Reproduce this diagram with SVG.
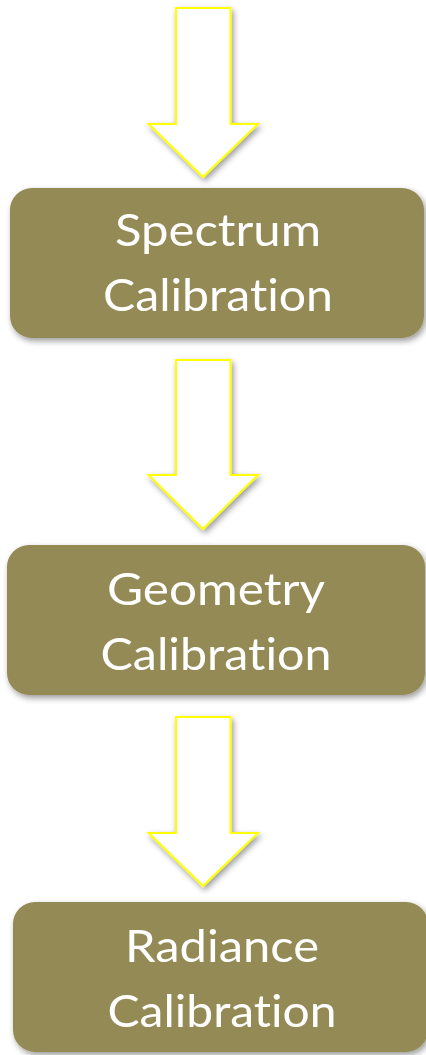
<svg xmlns="http://www.w3.org/2000/svg" width="426" height="1055" viewBox="0 0 426 1055">
<style>
.box{fill:#948a54}
.arrow{fill:#ffffff;stroke:#ffff00;stroke-width:2}
.lbl{font-family:Lato,"Open Sans",sans-serif;font-size:45px;fill:#ffffff;text-anchor:middle;font-variant-ligatures:none}
</style>
<defs>
<filter id="sh" x="-20%" y="-20%" width="140%" height="140%">
<feGaussianBlur in="SourceAlpha" stdDeviation="3"/>
<feOffset dx="2" dy="3" result="b"/>
<feComponentTransfer><feFuncA type="linear" slope="0.4"/></feComponentTransfer>
<feMerge><feMergeNode/><feMergeNode in="SourceGraphic"/></feMerge>
</filter>
</defs>
<rect width="426" height="1055" fill="#ffffff"/>
<g id="connectors" filter="url(#sh)">
<path class="arrow" d="M176,8 H230.5 V124 H258 L203,177 L148.5,124 H176 Z"/>
<path class="arrow" d="M176,360 H230.5 V475 H258 L203,529 L148.5,475 H176 Z"/>
<path class="arrow" d="M176,717 H230.5 V833 H258 L203,886 L148.5,833 H176 Z"/>
</g>
<g id="spectrum" filter="url(#sh)">
<rect class="box" x="10" y="188" width="414" height="150" rx="22"/>
<text class="lbl" x="218" y="246" textLength="206" lengthAdjust="spacingAndGlyphs">Spectrum</text>
<text class="lbl" x="218" y="311" textLength="230" lengthAdjust="spacingAndGlyphs">Calibration</text>
</g>
<g id="geometry" filter="url(#sh)">
<rect class="box" x="7" y="545" width="418" height="150" rx="22"/>
<text class="lbl" x="216" y="605" textLength="218" lengthAdjust="spacingAndGlyphs">Geometry</text>
<text class="lbl" x="216" y="670" textLength="231" lengthAdjust="spacingAndGlyphs">Calibration</text>
</g>
<g id="radiance" filter="url(#sh)">
<rect class="box" x="13" y="902" width="415" height="150" rx="22"/>
<text class="lbl" x="222" y="962" textLength="194" lengthAdjust="spacingAndGlyphs">Radiance</text>
<text class="lbl" x="222" y="1027" textLength="229" lengthAdjust="spacingAndGlyphs">Calibration</text>
</g>
</svg>
